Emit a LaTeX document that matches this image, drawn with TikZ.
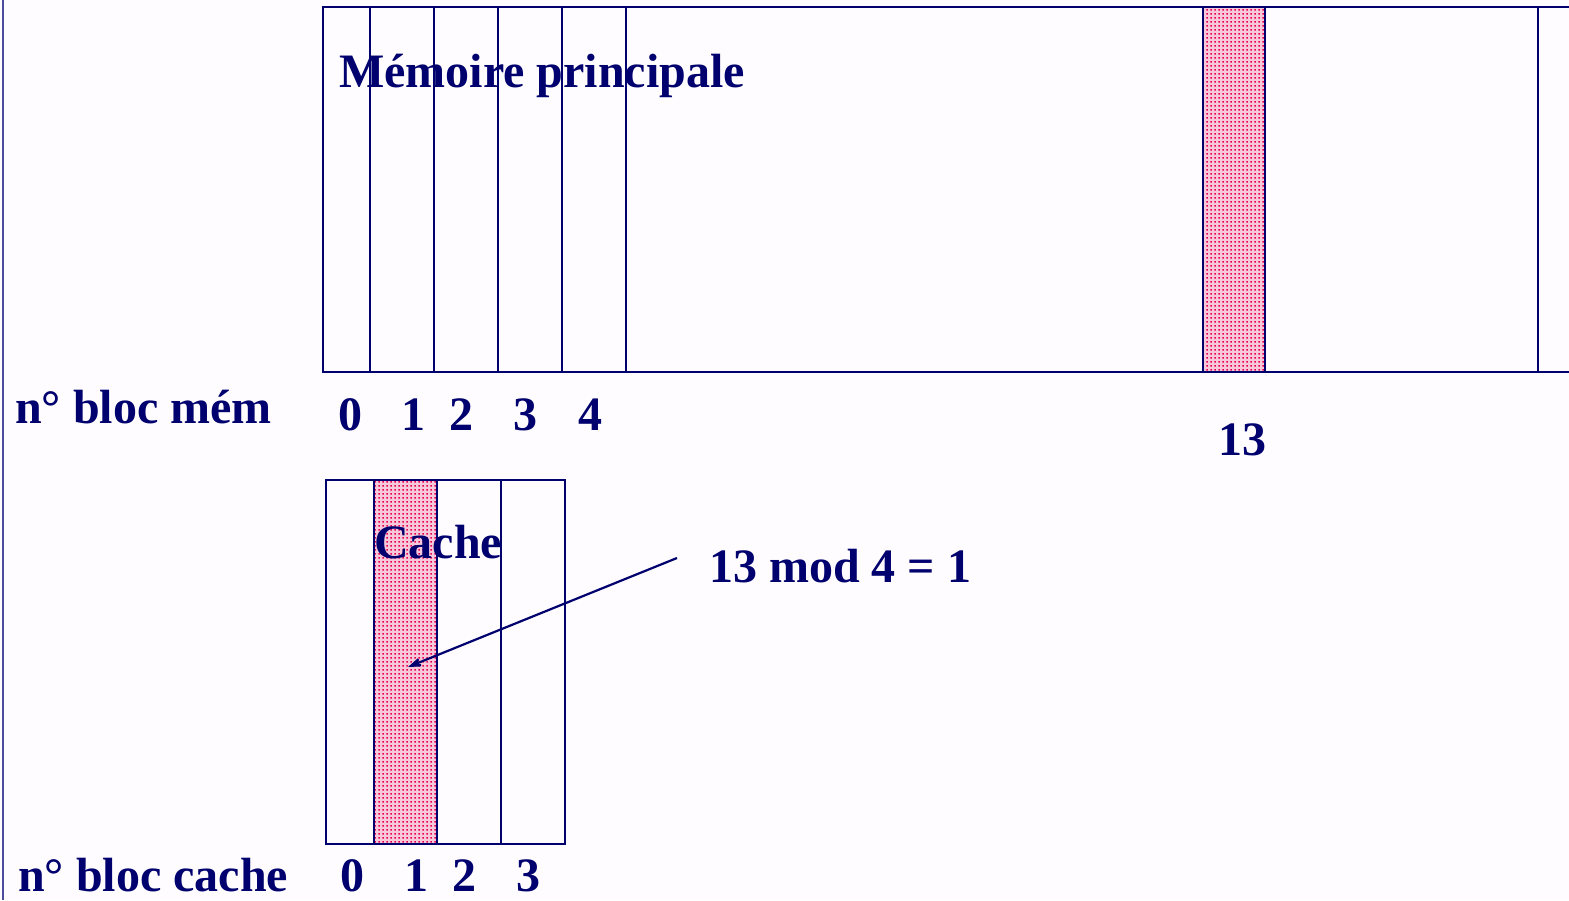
\documentclass[tikz,border=0pt]{standalone}
\usepackage{fontspec}
\setmainfont{Liberation Serif}
\usetikzlibrary{patterns.meta,arrows.meta}
\definecolor{navy}{RGB}{0,0,110}
\definecolor{bg}{RGB}{254,252,254}
\definecolor{dotred}{RGB}{228,0,80}
\definecolor{pinkbg}{RGB}{246,200,218}
\tikzdeclarepattern{
  name=bigdots,
  type=uncolored,
  bottom left={(0pt,0pt)},
  top right={(3.6pt,3.6pt)},
  tile size={(3.6pt,3.6pt)},
  code={\fill (0.5pt,0.5pt) rectangle (2.1pt,2.1pt);}
}
\begin{document}
\begin{tikzpicture}[x=1pt,y=-1pt,
  lbl/.style={text=navy,font=\fontsize{48}{56}\selectfont\bfseries,inner sep=0pt},
  box/.style={draw=navy,line width=2.3pt},
  hot/.style={fill=pinkbg},
  hotdots/.style={pattern=bigdots,pattern color=dotred},
  ]
\useasboundingbox (0,0) rectangle (1569,900);
\fill[bg] (0,0) rectangle (1569,900);
% left border
\draw[navy!70,line width=2.8pt] (3,0) -- (3,900);
% shaded blocks
\fill[hot] (1203,7) rectangle (1265,372);
\fill[hotdots] (1203,7) rectangle (1265,372);
\fill[hot] (374,480) rectangle (437,844);
\fill[hotdots] (374,480) rectangle (437,844);
% memory
\draw[box] (1569,7) -- (323,7) -- (323,372) -- (1569,372);
\foreach \x in {370,434,498,562,626,1203,1265,1538}
  \draw[box] (\x,7) -- (\x,372);
% cache
\draw[box] (326,480) rectangle (565,844);
\foreach \x in {374,437,501}
  \draw[box] (\x,480) -- (\x,844);
% labels
\node[lbl,anchor=base west] (mem) at (339,87) {Mémoire principale};
\node[lbl,anchor=base west] (nbm) at (15,423) {n° bloc mém};
\node[lbl,anchor=base] (m0) at (350,430) {0};
\node[lbl,anchor=base] (m1) at (413,430) {1};
\node[lbl,anchor=base] (m2) at (461,430) {2};
\node[lbl,anchor=base] (m3) at (525,430) {3};
\node[lbl,anchor=base] (m4) at (590,430) {4};
\node[lbl,anchor=base] (m13) at (1242,455) {13};
\node[lbl,anchor=base west] (cache) at (374,558) {Cache};
\node[lbl,anchor=base west] (mod) at (709,582) {13 mod 4 = 1};
\node[lbl,anchor=base west] (nbc) at (18,891) {n° bloc cache};
\node[lbl,anchor=base] (c0) at (352,891) {0};
\node[lbl,anchor=base] (c1) at (416,891) {1};
\node[lbl,anchor=base] (c2) at (464,891) {2};
\node[lbl,anchor=base] (c3) at (528,891) {3};
% arrow
\coordinate (arrS) at (677,558);
\coordinate (arrE) at (408,667);
\draw[navy,line width=2.2pt,-{Stealth[length=24pt,width=17pt,inset=15pt]}] (arrS) -- (arrE);
\end{tikzpicture}
\end{document}
